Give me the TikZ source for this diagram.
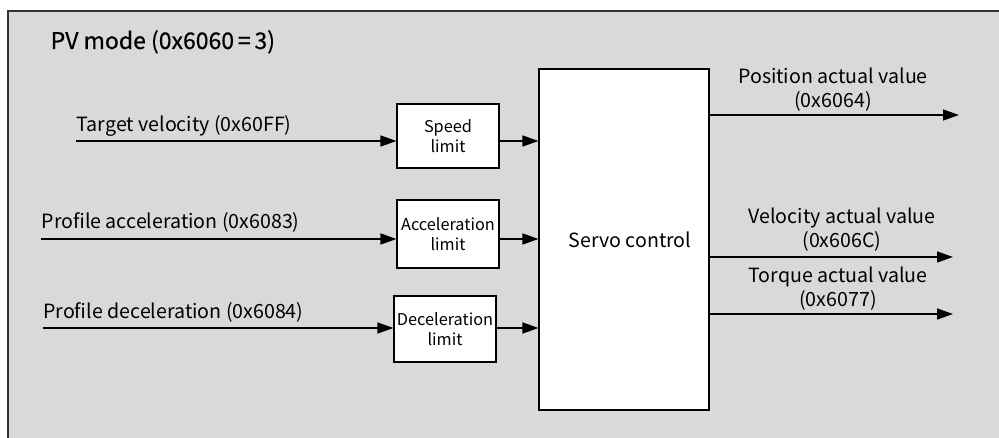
\documentclass[tikz,border=0pt]{standalone}
\usepackage{fontspec}
\setmainfont{Noto Sans CJK SC}
\newfontfamily\titlefont[FakeBold=0.4]{Noto Sans CJK SC}
\usetikzlibrary{arrows.meta,positioning}
\definecolor{panelgray}{RGB}{217,217,217}
\definecolor{edgegray}{RGB}{50,50,50}

\begin{document}
\begin{tikzpicture}[x=1pt,y=-1pt,->,>={Triangle[length=16pt,width=11pt]},line width=1.4pt,
  blk/.style={draw,fill=white,line width=1.1pt,inner sep=0pt,align=center,font=\fontsize{16.3}{20}\selectfont},
  lbl/.style={inner sep=0pt,font=\fontsize{19.6}{24.5}\selectfont},
  outlbl/.style={lbl,align=center,anchor=base}]
\clip (0,0) rectangle (999,438);
\draw[-,fill=panelgray,draw=edgegray,line width=1.6pt] (8,11) rectangle (1010,450);
\node[anchor=base west,inner sep=0pt,font=\titlefont\fontsize{23}{27}\selectfont] (Title) at (50,49) {PV mode (0x6060\,=\,3)};
% blocks
\node[blk,minimum width=102pt,minimum height=64pt] (SpeedLim) at (448,136) {Speed\\limit};
\node[blk,minimum width=102pt,minimum height=68pt] (AccLim) at (448,234) {Acceleration\\limit};
\node[blk,minimum width=102pt,minimum height=66pt] (DecLim) at (445,329) {Deceleration\\limit};
\node[draw,fill=white,line width=1.1pt,minimum width=170pt,minimum height=341pt,lbl] (Servo) at (624,239.5) {\hspace{12pt}Servo control};
% inputs
\coordinate (TV) at (76,141);
\coordinate (PA) at (41,239);
\coordinate (PD) at (42.5,328);
\node[lbl,anchor=base west] (TVLabel) at (76,132) {Target velocity (0x60FF)};
\node[lbl,anchor=base west] (PALabel) at (41,229) {Profile acceleration (0x6083)};
\node[lbl,anchor=base west] (PDLabel) at (42.5,319) {Profile deceleration (0x6084)};
\draw (TV) -- (SpeedLim.west |- TV);
\draw (PA) -- (AccLim.west |- PA);
\draw (PD) -- (DecLim.west |- PD);
\draw (SpeedLim.east |- TV) -- (Servo.west |- TV);
\draw (AccLim.east |- PA) -- (Servo.west |- PA);
\draw (DecLim.east |- PD) -- (Servo.west |- PD);
% outputs
\coordinate (PosOut) at (959,115);
\coordinate (VelOut) at (953,257);
\coordinate (TorOut) at (953,314);
\draw (Servo.east |- PosOut) -- (PosOut);
\draw (Servo.east |- VelOut) -- (VelOut);
\draw (Servo.east |- TorOut) -- (TorOut);
\node[outlbl] (PosLabel) at (833,108) {Position actual value\\(0x6064)};
\node[outlbl] (VelLabel) at (842,248) {Velocity actual value\\(0x606C)};
\node[outlbl] (TorLabel) at (838,307) {Torque actual value\\(0x6077)};
\end{tikzpicture}
\end{document}
